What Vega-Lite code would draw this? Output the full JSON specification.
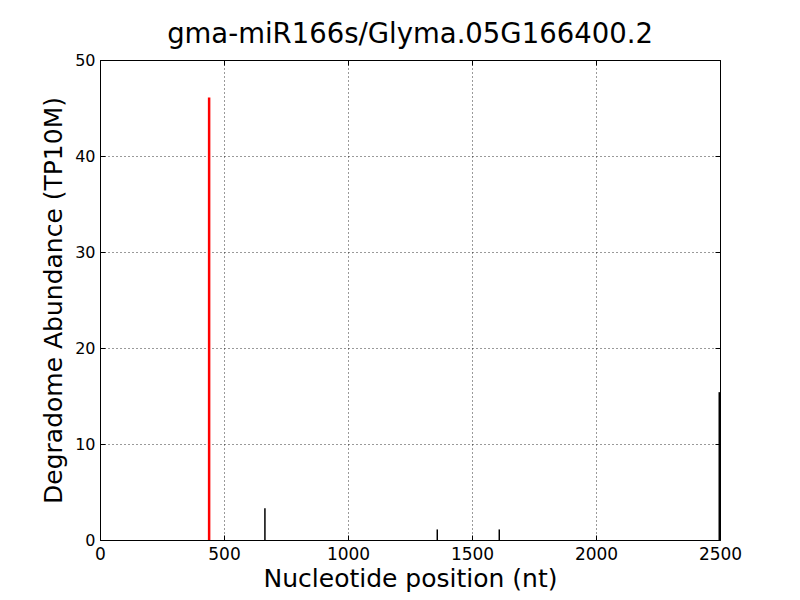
{
  "$schema": "https://vega.github.io/schema/vega-lite/v6.json",
  "width": 620,
  "height": 480,
  "autosize": {"type": "none"},
  "padding": {"left": 100, "top": 60, "right": 80, "bottom": 60},
  "background": "white",
  "title": {"text": "gma-miR166s/Glyma.05G166400.2", "font": "DejaVu Sans", "fontSize": 27.5, "fontWeight": "normal", "color": "black", "offset": 4},
  "config": {
    "view": {"stroke": "black", "strokeWidth": 1},
    "axis": {"labelFont": "DejaVu Sans", "titleFont": "DejaVu Sans", "labelFontSize": 16, "titleFontSize": 25, "titleFontWeight": "normal", "labelColor": "black", "titleColor": "black", "domain": false, "tickColor": "black", "tickSize": -5, "grid": true, "gridColor": "black", "gridDash": [1, 3], "gridOpacity": 1, "gridWidth": 0.8, "labelPadding": 9, "labelFlush": false, "format": "d"}
  },
  "data": {"values": [
    {"pos": 440, "abund": 46.1, "kind": "target"},
    {"pos": 665, "abund": 3.3, "kind": "other"},
    {"pos": 1360, "abund": 1.1, "kind": "other"},
    {"pos": 1610, "abund": 1.1, "kind": "other"},
    {"pos": 2497, "abund": 15.4, "kind": "other"}
  ]},
  "layer": [
    {
      "mark": {"type": "rule"},
      "encoding": {
        "x": {"field": "pos", "type": "quantitative", "scale": {"domain": [0, 2500], "nice": false}, "axis": {"title": "Nucleotide position (nt)", "values": [0, 500, 1000, 1500, 2000, 2500], "titlePadding": 4, "labelFontSize": 17, "labelPadding": 11}},
        "y": {"field": "abund", "type": "quantitative", "scale": {"domain": [0, 50], "nice": false}, "axis": {"title": "Degradome Abundance (TP10M)", "values": [0, 10, 20, 30, 40, 50], "titlePadding": 8, "labelPadding": 10}},
        "y2": {"datum": 0},
        "color": {"field": "kind", "type": "nominal", "scale": {"domain": ["target", "other"], "range": ["#ff0000", "#000000"]}, "legend": null},
        "strokeWidth": {"field": "kind", "type": "nominal", "scale": {"domain": ["target", "other"], "range": [2.5, 1.5]}, "legend": null}
      }
    },
    {
      "mark": {"type": "rule", "opacity": 0},
      "encoding": {
        "x": {"field": "pos", "type": "quantitative", "scale": {"domain": [0, 2500], "nice": false}, "axis": {"orient": "top", "title": null, "labels": false, "grid": false, "values": [0, 500, 1000, 1500, 2000, 2500]}},
        "y": {"field": "abund", "type": "quantitative", "scale": {"domain": [0, 50], "nice": false}, "axis": {"orient": "right", "title": null, "labels": false, "grid": false, "values": [0, 10, 20, 30, 40, 50]}}
      }
    }
  ],
  "resolve": {"axis": {"x": "independent", "y": "independent"}}
}
